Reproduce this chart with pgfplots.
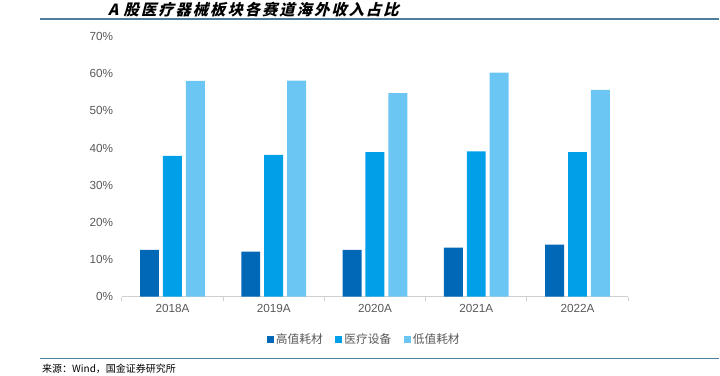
\documentclass[border=0pt]{standalone}
\usepackage{pgfplots}
\pgfplotsset{compat=1.18}
\usepackage{fontspec}
\setmainfont{Liberation Sans}
\newfontfamily\cjk{Noto Sans CJK SC}
\newfontfamily\titlefont[FakeSlant=0.25, LetterSpace=13]{Noto Sans CJK SC}
\definecolor{cA}{HTML}{0068B7}
\definecolor{cB}{HTML}{00A0E9}
\definecolor{cC}{HTML}{6CC6F4}
\definecolor{rulec}{HTML}{4D7F9C}
\definecolor{tickc}{HTML}{595959}
\definecolor{axc}{HTML}{D0D0D0}
\begin{document}
\begin{tikzpicture}
\begin{scope}[x=0.75pt,y=-0.75pt]
\path (0,0) rectangle (720,376);
\draw[rulec, line width=1.5pt] (40,19.5) -- (720,19.5);
\node[anchor=west, inner sep=0] at (108,10) {\titlefont\bfseries\fontsize{11.5}{12}\selectfont A 股医疗器械板块各赛道海外收入占比};
\draw[rulec, line width=1.2pt] (40,359) -- (720,359);
\node[anchor=west, inner sep=0] at (42,369.5) {\cjk\fontsize{7.5}{8}\selectfont 来源：Wind，国金证券研究所};
\end{scope}
\begin{axis}[
  at={(91.5pt,-222.75pt)}, anchor=south west,
  scale only axis, width=380.25pt, height=195.2pt,
  ybar, bar width=14.25pt,
  xmin=-0.5, xmax=4.5, ymin=0, ymax=70,
  xtick={0,1,2,3,4}, xticklabels={2018A,2019A,2020A,2021A,2022A},
  ytick={0,10,...,70}, yticklabel={\pgfmathprintnumber{\tick}\%},
  axis x line*=bottom, axis y line*=left,
  y axis line style={draw=none},
  x axis line style={draw=axc, line width=0.8pt, -},
  major tick length=0pt,
  extra x ticks={-0.5,0.5,1.5,2.5,3.5,4.5}, extra x tick labels={},
  extra x tick style={major tick length=3.5pt, tick align=outside, tick style={draw=axc, line width=0.8pt}},
  /pgf/number format/assume math mode=true,
  tick label style={font=\fontsize{8.8}{10}\selectfont, color=tickc},
  yticklabel style={xshift=-3pt},
  xticklabel style={yshift=-2pt},
  legend style={at={(axis description cs:0.479,-0.165)}, anchor=center, draw=none, fill=none,
    legend columns=3, font=\cjk\fontsize{8.8}{10}\selectfont, text=tickc,
    /tikz/every even column/.append style={column sep=8pt},
    nodes={inner sep=1.5pt}},
  legend image code/.code={\fill[#1] (0pt,-2.6pt) rectangle (5.2pt,2.6pt);},
]
\addplot[fill=cA, draw=none, bar shift=-17.25pt] coordinates {(0,12.6) (1,12.1) (2,12.6) (3,13.2) (4,14.0)};
\addplot[fill=cB, draw=none, bar shift=0pt] coordinates {(0,37.9) (1,38.2) (2,38.9) (3,39.1) (4,38.9)};
\addplot[fill=cC, draw=none, bar shift=17.25pt] coordinates {(0,58.1) (1,58.2) (2,54.8) (3,60.3) (4,55.7)};
\legend{高值耗材,医疗设备,低值耗材}
\end{axis}
\end{tikzpicture}
\end{document}
